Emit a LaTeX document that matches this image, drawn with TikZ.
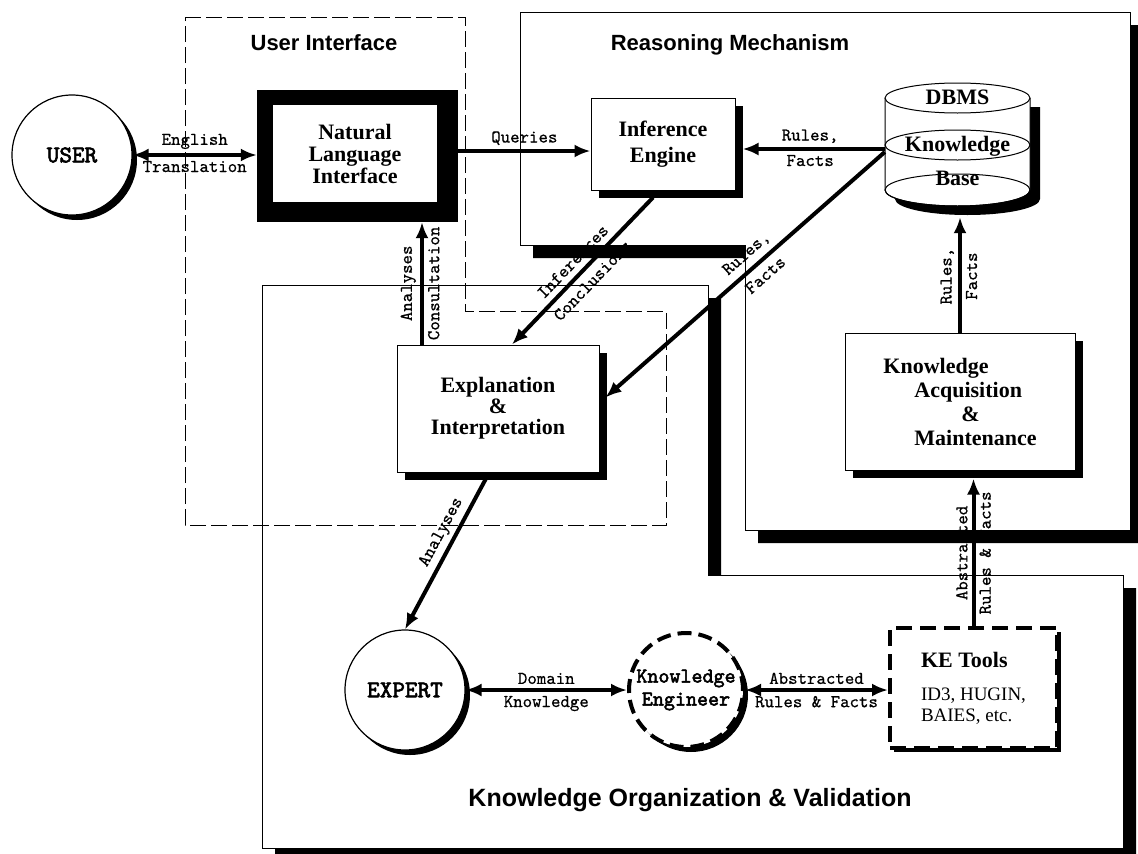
\documentclass[tikz,border=0pt]{standalone}
\usepackage{fontspec}
\setmainfont{Liberation Serif}
\newfontfamily\headfont{Liberation Sans}
\newfontfamily\labfont{lmmono10-regular.otf}[FakeBold=0.6]
\newfontfamily\agentfont{lmmono10-regular.otf}[FakeBold=2.5]
\usepackage{tikz}
\usetikzlibrary{positioning,calc,shadows,arrows.meta}

\begin{document}
\begin{tikzpicture}[x=1pt,y=-1pt,
	blackshadow/.style={drop shadow={shadow xshift=#1,shadow yshift=-#1,fill=black,opacity=1}},
	region/.style={draw,line width=0.9pt,fill=white,blackshadow=13pt},
	uiline/.style={line width=0.8pt,dash pattern=on 16pt off 5pt},
	title/.style={font=\headfont\bfseries\fontsize{22}{22}\selectfont},
	box/.style={draw,fill=white,line width=1pt,align=center,blackshadow=8pt,font=\bfseries\fontsize{22}{22}\selectfont},
	cyl/.style={inner sep=0pt,font=\bfseries\fontsize{22}{22}\selectfont},
	agent/.style={circle,draw,fill=white,line width=1.2pt,align=center,inner sep=0pt,blackshadow=5pt,font=\agentfont\fontsize{24}{24}\selectfont},
	flow/.style={line width=4pt,-{Latex[length=16pt,width=13pt]}},
	twoway/.style={line width=4pt,{Latex[length=16pt,width=13pt]}-{Latex[length=16pt,width=13pt]}},
	lbl/.style={font=\labfont\fontsize{18}{18}\selectfont,inner sep=4pt},
	]
	\useasboundingbox (0,0) rectangle (1138,854);
	%% regions
	\path[region] (520,12) -- (1130,12) -- (1130,530) -- (745,530) -- (745,245) -- (520,245) -- cycle;
	\path[region] (262,285) -- (708,285) -- (708,575) -- (1123,575) -- (1123,848) -- (262,848) -- cycle;
	\draw[uiline] (185,17) -- (465,17) -- (465,311) -- (666,311) -- (666,525) -- (185,525) -- cycle;
	\node[title] (uititle) at (324,43) {User Interface};
	\node[title] (rmtitle) at (730,45) {Reasoning Mechanism};
	\node[title,font=\headfont\bfseries\fontsize{25}{25}\selectfont] (kovtitle) at (690,800) {Knowledge Organization \& Validation};
	
	%% user interface
	\node[agent,minimum size=120pt] (user) at (72,155) {USER};
	\node[fill=black,minimum width=201pt,minimum height=132pt] (nli) at (357.5,156) {};
	\node[fill=white,minimum width=164pt,minimum height=97pt,align=center,font=\bfseries\fontsize{22}{22}\selectfont] (nlitext) at (355,153.5) {Natural\\Language\\Interface};
	
	%% reasoning mechanism
	\node[box,minimum width=144pt,minimum height=92pt,font=\bfseries\fontsize{22}{26}\selectfont] (ie) at (663,144) {Inference\\Engine};
	% DBMS cylinder
	\fill (895,107) -- (895,199) arc[start angle=180,end angle=360,x radius=72.5pt,y radius=16pt] -- (1040,107) -- cycle;
	\draw[line width=1pt,fill=white] (885,98) -- (885,190) arc[start angle=180,end angle=360,x radius=72.5pt,y radius=16pt] -- (1030,98);
	\draw[line width=1pt,fill=white] (957.5,98) ellipse[x radius=72.5pt,y radius=15pt];
	\draw[line width=1pt] (957.5,145) ellipse[x radius=72.5pt,y radius=15pt];
	\draw[line width=1pt] (957.5,190) ellipse[x radius=72.5pt,y radius=16pt];
	\node[minimum width=145pt,minimum height=124pt,inner sep=0pt] (db) at (957.5,145) {};
	\node[cyl] (dbms) at (957.5,97) {DBMS};
	\node[cyl] (kb) at (957.5,146) {Knowledge};
	\node[cyl] (kbase) at (957.5,178) {Base};
	\node[box,minimum width=202pt,minimum height=127pt,font=\bfseries\fontsize{22}{21}\selectfont] (ex) at (498,408.5) {Explanation\\\&\\Interpretation};
	\node[box,minimum width=230pt,minimum height=137pt,align=left,font=\bfseries\fontsize{22}{24}\selectfont] (kam) at (960,401.5) {Knowledge\\\hspace*{31pt}Acquisition\\\hspace*{78pt}\&\\\hspace*{31pt}Maintenance};
	
	%% knowledge organization
	\node[agent,minimum size=120pt] (expert) at (405,690) {EXPERT};
	\node[agent,minimum size=114pt,line width=4pt,dash pattern=on 14pt off 7pt,font=\agentfont\fontsize{21}{23}\selectfont] (ke) at (686,690) {Knowledge\\Engineer};
	\node[draw,fill=white,line width=4pt,dash pattern=on 16pt off 8pt,blackshadow=4pt,minimum width=167pt,minimum height=120pt,align=left,font=\fontsize{19}{21}\selectfont] (ket) at (973.5,688) {{\bfseries\fontsize{22}{22}\selectfont KE Tools}\\[12pt]ID3, HUGIN,\\BAIES, etc.};
	
	% connectors
	\coordinate (qin) at ([yshift=-7pt]ie.west);
	\coordinate (rfin) at ([yshift=-4pt]db.west);
	\coordinate (consult) at ($(ex.north)+(-76,0)$);
	\draw[twoway] (user) -- (user -| nli.west) node[lbl,above,midway] {English} node[lbl,below,midway] {Translation};
	\draw[flow] (qin -| nli.east) -- (qin) node[lbl,above,midway] {Queries};
	\draw[flow,shorten >=7pt] (rfin) -- (rfin -| ie.east) node[lbl,above,midway] {Rules,} node[lbl,below,midway] {Facts};
	\draw[flow] ([yshift=-7pt]db.west) -- ($(ex.east)+(6,-11)$) node[lbl,above,sloped,pos=0.46,inner sep=6pt] {Rules,} node[lbl,below,sloped,pos=0.46,inner sep=6pt] {Facts};
	\draw[flow] ($(ie.south)+(-10,7)$) -- ($(ex.north)+(14,0)$) node[lbl,above,sloped,midway,inner sep=6pt] {Inferences} node[lbl,below,sloped,midway,inner sep=6pt] {Conclusions};
	\draw[flow] (consult) -- (consult |- nli.south) node[lbl,above,sloped,midway] {Analyses} node[lbl,below,sloped,midway] {Consultation};
	\draw[flow] ($(ex.south)+(-12,6)$) -- (expert.north) node[lbl,above,sloped,pos=0.4] {Analyses};
	\draw[flow,shorten >=10pt] (kam.north) -- (kam.north |- db.south) node[lbl,above,sloped,pos=0.45] {Rules,} node[lbl,below,sloped,pos=0.45] {Facts};
	\draw[twoway] (expert) -- (ke) node[lbl,above,midway] {Domain} node[lbl,below,midway] {Knowledge};
	\draw[twoway] (ke.east) -- (ke.east -| ket.west) node[lbl,above,midway] {Abstracted} node[lbl,below,midway] {Rules \& Facts};
	\draw[flow,shorten >=8pt] (ket.north) -- (ket.north |- kam.south) node[lbl,above,sloped,pos=0.47] {Abstracted} node[lbl,below,sloped,pos=0.47] {Rules \& Facts};
\end{tikzpicture}
\end{document}
